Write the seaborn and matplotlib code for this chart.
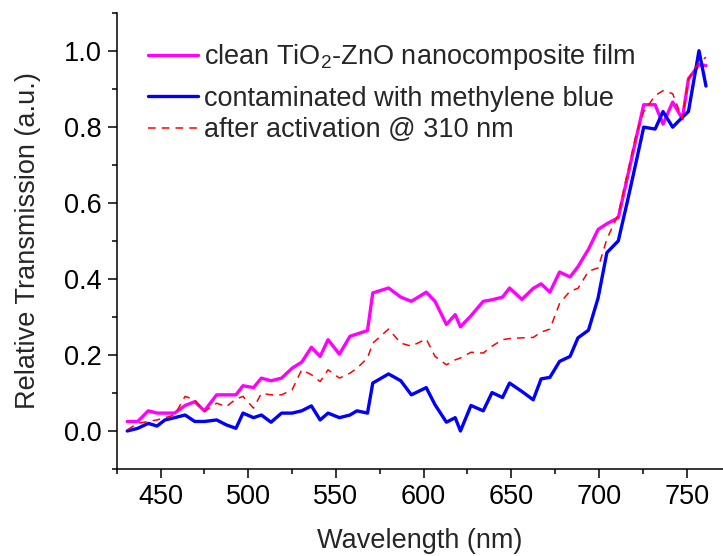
import matplotlib
matplotlib.use("Agg")
import matplotlib.pyplot as plt
from matplotlib.ticker import MultipleLocator
import seaborn as sns
import pandas as pd

# Wavelength grid (nm) shared by the three spectra
wavelength = [431, 437, 443, 448, 452.5, 458, 464, 469.5, 475, 482, 487.5, 493, 497, 503,
              507.5, 513, 519, 525, 530.5, 536, 541, 545.5, 552, 558, 562, 568, 571, 580,
              587, 593, 601.5, 606.5, 613, 618, 621, 627, 634, 639, 645, 649, 656, 662.5,
              667, 672, 677.5, 683.5, 688, 694, 699.5, 704.5, 711, 716, 721, 725.5, 732,
              736.5, 742, 747.5, 751, 757, 761]

# Clean TiO2-ZnO film
clean = [0.025, 0.025, 0.053, 0.047, 0.047, 0.047, 0.067, 0.077, 0.053, 0.095, 0.095, 0.095,
         0.119, 0.114, 0.139, 0.132, 0.139, 0.165, 0.181, 0.220, 0.196, 0.240, 0.202, 0.249,
         0.255, 0.264, 0.363, 0.376, 0.352, 0.341, 0.365, 0.341, 0.280, 0.306, 0.274, 0.303,
         0.341, 0.345, 0.352, 0.376, 0.346, 0.375, 0.387, 0.365, 0.418, 0.405, 0.432, 0.478,
         0.530, 0.545, 0.561, 0.663, 0.766, 0.858, 0.858, 0.807, 0.865, 0.821, 0.926, 0.963,
         0.961]

# Film contaminated with methylene blue
contaminated = [0.000, 0.007, 0.020, 0.013, 0.029, 0.035, 0.042, 0.025, 0.025, 0.029, 0.016,
                0.007, 0.047, 0.035, 0.042, 0.023, 0.047, 0.047, 0.053, 0.066, 0.029, 0.047,
                0.035, 0.042, 0.053, 0.047, 0.126, 0.150, 0.132, 0.095, 0.114, 0.069, 0.023,
                0.035, 0.000, 0.067, 0.053, 0.101, 0.088, 0.126, 0.104, 0.082, 0.137, 0.141,
                0.183, 0.196, 0.245, 0.265, 0.350, 0.469, 0.500, 0.600, 0.704, 0.799, 0.794,
                0.840, 0.799, 0.825, 0.840, 1.000, 0.907]

# Same film after UV activation at 310 nm
activated = [0.003, 0.020, 0.025, 0.029, 0.035, 0.042, 0.091, 0.082, 0.051, 0.073, 0.064,
             0.084, 0.091, 0.060, 0.099, 0.095, 0.095, 0.108, 0.161, 0.148, 0.130, 0.161,
             0.139, 0.152, 0.165, 0.192, 0.231, 0.268, 0.231, 0.223, 0.242, 0.196, 0.174,
             0.187, 0.192, 0.207, 0.205, 0.223, 0.240, 0.243, 0.245, 0.246, 0.260, 0.268,
             0.335, 0.368, 0.375, 0.420, 0.429, 0.505, 0.570, 0.673, 0.776, 0.840, 0.882,
             0.895, 0.887, 0.821, 0.926, 0.970, 0.983]

labels = ["clean TiO$_2$-ZnO nanocomposite film",
          "contaminated with methylene blue",
          "after activation @ 310 nm"]

FS = 19.5

sns.set_style("ticks")
plt.rcParams["font.family"] = ["Liberation Sans", "DejaVu Sans"]
plt.rcParams["mathtext.fontset"] = "custom"
plt.rcParams["mathtext.rm"] = "Liberation Sans"
plt.rcParams["mathtext.default"] = "regular"

df = pd.DataFrame({"wl": wavelength, "clean": clean,
                   "contaminated": contaminated, "activated": activated})

fig = plt.figure(figsize=(7.23, 5.56), dpi=100)
ax = fig.add_axes([116.7 / 723, 87 / 556, 606.3 / 723, 456.3 / 556])

sns.lineplot(data=df, x="wl", y="clean", ax=ax, color="#FF00FF", linewidth=2.4,
             label=labels[0], legend=False)
sns.lineplot(data=df, x="wl", y="contaminated", ax=ax, color="#0000FF", linewidth=2.4,
             label=labels[1], legend=False)
sns.lineplot(data=df, x="wl", y="activated", ax=ax, color="#FF0000", linewidth=1.1,
             linestyle=(0, (5, 4)), label=labels[2], legend=False)

ax.set_xlim(425, 770.7)
ax.set_ylim(-0.1, 1.1)
ax.set_xticks([450, 500, 550, 600, 650, 700, 750])
ax.set_yticks([0.0, 0.2, 0.4, 0.6, 0.8, 1.0])
ax.set_yticklabels(["0.0", "0.2", "0.4", "0.6", "0.8", "1.0"])
ax.xaxis.set_minor_locator(MultipleLocator(25))
ax.yaxis.set_minor_locator(MultipleLocator(0.1))
ax.tick_params(which="major", direction="out", length=6.5, width=1.1, labelsize=FS,
               color="black", labelcolor="black", pad=4)
ax.tick_params(which="minor", direction="out", length=3.8, width=1.1, color="black")

for side in ("top", "right"):
    ax.spines[side].set_visible(False)
for side in ("left", "bottom"):
    ax.spines[side].set_linewidth(1.1)
    ax.spines[side].set_color("black")

ax.set_xlabel("Wavelength (nm)", fontsize=FS, labelpad=13)
ax.set_ylabel("Relative Transmission (a.u.)", fontsize=FS, labelpad=17)

# Legend: first entry on its own (taller because of the subscript), then the other two
lines = ax.get_lines()
leg_kw = dict(frameon=False, fontsize=FS, handlelength=1.85, handletextpad=0.22,
              borderpad=0, borderaxespad=0, loc="center left")
leg1 = ax.legend(handles=lines[:1], labels=labels[:1],
                 bbox_to_anchor=(0.0516, 0.902), **leg_kw)
ax.add_artist(leg1)
ax.legend(handles=lines[1:3], labels=labels[1:3], labelspacing=0.2,
          bbox_to_anchor=(0.0516, 0.777), **leg_kw)

fig.savefig("out.png", dpi=100)
